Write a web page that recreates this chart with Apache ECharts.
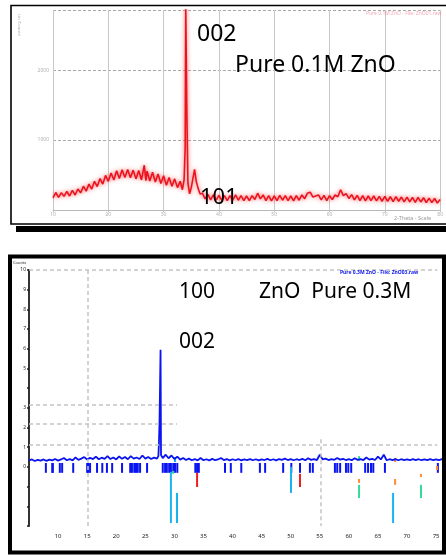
<!DOCTYPE html>
<html>
<head>
<meta charset="utf-8">
<script src="https://cdn.jsdelivr.net/npm/echarts@6/dist/echarts.min.js"></script>
<style>
  html, body { margin: 0; padding: 0; background: #fff; }
  #chart { width: 446px; height: 555px; }
</style>
</head>
<body>
<div id="chart"></div>
<script>
// ---- Upper scan: Pure 0.1M ZnO, [2-theta (deg), counts] ----
const scan01 = [
  [10.0,175],[10.5,250],[11.0,180],[11.5,245],[12.0,195],[12.5,265],[13.0,200],[13.5,280],[14.0,215],[14.5,300],
  [15.0,245],[15.5,340],[16.0,270],[16.5,370],[17.0,300],[17.5,410],[18.0,335],[18.5,450],[19.0,370],[19.5,495],
  [20.0,410],[20.5,530],[21.0,430],[21.5,560],[22.0,450],[22.5,575],[23.0,465],[23.5,580],[24.0,460],[24.5,570],
  [25.0,445],[25.5,565],[26.0,430],[26.5,640],[26.8,420],[27.0,555],[27.5,415],[28.0,540],[28.5,400],[29.0,515],
  [29.5,380],[30.0,490],[30.5,355],[31.0,465],[31.5,340],[32.0,445],[32.5,320],[33.0,410],[33.4,290],[33.7,430],
  [33.9,900],[34.0,2950],[34.2,1400],[34.4,380],[34.7,230],[35.0,320],[35.3,300],[35.6,580],[35.9,410],[36.2,320],
  [36.6,230],[37.0,240],[37.5,160],[38.0,225],[38.5,145],[39.0,215],[39.5,140],[40.0,210],[40.5,140],[41.0,205],
  [41.5,135],[42.0,205],[42.5,140],[43.0,215],[43.5,140],[44.0,205],[44.5,135],[45.0,200],[45.5,135],[46.0,205],
  [46.5,150],[47.0,240],[47.5,160],[48.0,215],[48.5,135],[49.0,205],[49.5,130],[50.0,200],[50.5,135],[51.0,210],
  [51.5,140],[52.0,205],[52.5,135],[53.0,200],[53.5,130],[54.0,205],[54.5,140],[55.0,215],[55.5,160],[56.0,240],
  [56.5,255],[57.0,185],[57.5,200],[58.0,215],[58.5,145],[59.0,210],[59.5,135],[60.0,205],[60.5,150],[61.0,215],
  [61.5,190],[62.0,290],[62.5,205],[63.0,235],[63.5,165],[64.0,220],[64.5,145],[65.0,210],[65.5,135],[66.0,205],
  [66.5,130],[67.0,200],[67.5,135],[68.0,200],[68.5,130],[69.0,195],[69.5,125],[70.0,195],[70.5,125],[71.0,190],
  [71.5,120],[72.0,190],[72.5,125],[73.0,185],[73.5,115],[74.0,185],[74.5,115],[75.0,180],[75.5,110],[76.0,180],
  [76.5,115],[77.0,175],[77.5,105],[78.0,170],[78.5,105],[79.0,165],[79.5,100],[80.0,150]
];
const scan01Ticks = [10, 20, 30, 40, 50, 60, 70, 80];

// ---- Lower scan: ZnO Pure 0.3M, [position, intensity] ----
const scan03 = [
  [5.0,.33],[5.5,.38],[6.0,.30],[6.5,.36],[7.0,.32],[7.5,.38],[8.0,.31],[8.5,.37],[9.0,.33],[9.5,.40],
  [10.0,.32],[10.5,.38],[11.0,.45],[11.5,.34],[12.0,.40],[12.5,.33],[13.0,.48],[13.5,.36],[14.0,.42],[14.5,.50],
  [15.0,.38],[15.5,.46],[16.0,.40],[16.5,.52],[17.0,.39],[17.5,.47],[18.0,.41],[18.5,.55],[19.0,.40],[19.5,.48],
  [20.0,.38],[20.5,.53],[21.0,.41],[21.5,.50],[22.0,.39],[22.5,.55],[23.0,.42],[23.5,.48],[24.0,.40],[24.5,.58],
  [25.0,.42],[25.5,.50],[26.0,.40],[26.5,.47],[27.0,.42],[27.25,.55],[27.35,1.25],[27.45,2.40],[27.55,2.50],[27.62,5.95],
  [27.7,.60],[28.0,.45],[28.5,.62],[29.0,.44],[29.5,.58],[30.0,.40],[30.5,.52],[31.0,.37],[31.5,.45],[32.0,.35],
  [32.5,.42],[33.0,.34],[33.5,.40],[34.0,.33],[34.5,.45],[35.0,.34],[35.5,.39],[36.0,.33],[36.5,.41],[37.0,.34],
  [37.5,.38],[38.0,.45],[38.5,.35],[39.0,.40],[39.5,.33],[40.0,.39],[40.5,.34],[41.0,.40],[41.5,.33],[42.0,.38],
  [42.5,.35],[43.0,.40],[43.5,.34],[44.0,.39],[44.5,.33],[45.0,.38],[45.5,.35],[46.0,.41],[46.5,.34],[47.0,.39],
  [47.5,.33],[48.0,.40],[48.5,.36],[49.0,.42],[49.5,.35],[50.0,.40],[50.5,.34],[51.0,.39],[51.5,.35],[52.0,.41],
  [52.5,.34],[53.0,.44],[53.5,.36],[54.0,.40],[54.5,.35],[55.0,.62],[55.5,.38],[56.0,.42],[56.5,.35],[57.0,.40],
  [57.5,.36],[58.0,.45],[58.5,.37],[59.0,.41],[59.5,.35],[60.0,.40],[60.5,.34],[61.0,.44],[61.5,.36],[62.0,.40],
  [62.5,.35],[63.0,.48],[63.5,.37],[64.0,.41],[64.5,.35],[65.0,.52],[65.5,.38],[66.0,.62],[66.5,.34],[67.0,.39],
  [67.5,.35],[68.0,.40],[68.5,.34],[69.0,.39],[69.5,.35],[70.0,.38],[70.5,.34],[71.0,.40],[71.5,.35],[72.0,.39],
  [72.5,.34],[73.0,.38],[73.5,.35],[74.0,.40],[74.5,.34],[75.0,.38],[75.5,.35],[76.0,.39],[76.5,.34]
];

// short counting ticks under the lower baseline (positions)
const countTicks = [
  7.9, 9.0, 9.1, 10.3, 10.7, 12.6, 15.0, 15.2, 15.5, 16.7, 17.6, 18.4, 19.3, 21.0,
  22.4, 22.7, 23.1, 23.4, 23.7, 24.1, 25.3, 28.0, 28.4, 28.7, 29.1, 29.4, 29.8, 30.1, 30.5,
  33.6, 33.9, 34.2, 38.7, 39.7, 41.5, 44.7, 45.6, 48.7, 50.1, 51.6, 53.3, 53.8,
  57.6, 58.0, 58.5, 59.5, 59.9, 60.4, 62.8, 63.3, 63.8, 64.2, 66.2, 75.3
];
const countTickTop = 0.2;
const countTickBottom = -0.3;

// reference stick patterns: [position, from, to]
const sticksCyan   = [[29.4,-0.25,-2.85],[30.45,-1.32,-2.85],[50.05,0.0,-1.32],[67.6,-1.32,-2.85],[30.1,0.5,0.25]];
const sticksRed    = [[33.9,-0.3,-1.02],[51.6,-0.35,-1.02]];
const sticksOrange = [[61.75,-0.61,-0.81],[67.95,-0.61,-0.91],[72.4,-0.36,-0.51],[75.15,0.05,-0.15],[67.95,0.45,0.25]];
const sticksGreen  = [[61.75,-0.91,-1.58],[72.4,-0.91,-1.58],[61.75,0.55,0.3],[29.8,-0.2,-0.35]];

// dashed guide lines of the lower panel: [[x1,y1],[x2,y2]]
const guides03 = [
  [[5, 10], [75.2, 10]],
  [[5, 3.15], [30.45, 3.15]],
  [[5, 2.2], [30.45, 2.2]],
  [[5, 1.15], [75.2, 1.15]],
  [[15.15, 10], [15.15, -3]],
  [[55.2, 1.4], [55.2, -3]]
];
const scan03Ticks = [10, 15, 20, 25, 30, 35, 40, 45, 50, 55, 60, 65, 70, 75];

const chart = echarts.init(document.getElementById('chart'), null, { renderer: 'canvas', devicePixelRatio: 1 });

function stickRenderer(color, width) {
  return function (params, api) {
    const a = api.coord([api.value(0), api.value(1)]);
    const b = api.coord([api.value(0), api.value(2)]);
    return {
      type: 'line',
      shape: { x1: a[0], y1: a[1], x2: b[0], y2: b[1] },
      style: { stroke: color, lineWidth: width }
    };
  };
}
function stickSeries(data, color, width) {
  return {
    type: 'custom', xAxisIndex: 1, yAxisIndex: 1, silent: true,
    renderItem: stickRenderer(color, width),
    encode: { x: 0, y: [1, 2] },
    data: data, z: 3
  };
}

const FONT = '"Noto Sans", "Open Sans", sans-serif';
function label(text, x, y, size, color, extra) {
  return Object.assign({
    type: 'text', x: x, y: y, z: 100,
    style: {
      text: text, fill: color, font: size + 'px ' + FONT,
      align: 'left', verticalAlign: 'middle', textAlign: 'left', textVerticalAlign: 'middle'
    }
  }, extra || {});
}

const option = {
  animation: false,
  backgroundColor: '#fff',
  grid: [
    { left: 53, top: 10, width: 393, height: 200 },
    { left: 29, top: 270, width: 417, height: 256 }
  ],
  xAxis: [
    {
      type: 'value', gridIndex: 0, min: 10, max: 80, interval: 10,
      axisLine: { show: true, lineStyle: { color: '#b8b8b8', width: 1 } },
      axisTick: { show: true, length: 2, lineStyle: { color: '#c0c0c0' } },
      axisLabel: {
        fontSize: 5, color: '#b0b0b0', margin: 2, fontFamily: FONT,
        formatter: v => scan01Ticks.includes(v) ? String(v) : ''
      },
      splitLine: { show: true, lineStyle: { color: '#c8c8c8', width: 1 } }
    },
    {
      type: 'value', gridIndex: 1, min: 5, max: 76.7, interval: 5,
      axisLine: { show: false }, axisTick: { show: false },
      axisLabel: {
        fontSize: 6, color: '#222', margin: 7, fontFamily: FONT,
        showMinLabel: false, showMaxLabel: false,
        formatter: v => scan03Ticks.includes(v) ? String(v) : ''
      },
      splitLine: { show: false }
    }
  ],
  yAxis: [
    {
      type: 'value', gridIndex: 0, min: 0, max: 2860, interval: 1000,
      axisLine: { show: false }, axisTick: { show: false },
      axisLabel: {
        fontSize: 5, color: '#b0b0b0', margin: 4, fontFamily: FONT,
        formatter: v => (v > 0 && v % 1000 === 0) ? String(v) : ''
      },
      splitLine: { show: true, lineStyle: { color: '#a8a8a8', width: 1, type: [3, 2] } }
    },
    {
      type: 'value', gridIndex: 1, min: -3, max: 10, interval: 1,
      axisLine: { show: true, lineStyle: { color: '#333', width: 2 } },
      axisTick: { show: true, length: 2, lineStyle: { color: '#222', width: 1.5 } },
      axisLabel: {
        fontSize: 5, color: '#222', margin: 3, fontFamily: FONT,
        formatter: v => (v >= 0 && v !== 4) ? String(v) : ''
      },
      splitLine: { show: false }
    }
  ],
  series: [
    {
      name: 'Pure 0.1M ZnO', type: 'line', xAxisIndex: 0, yAxisIndex: 0,
      data: scan01, showSymbol: false, clip: true, z: 3,
      lineStyle: { color: '#ea1420', width: 1.6, shadowBlur: 4, shadowColor: 'rgba(255,60,60,0.85)' }
    },
    {
      name: 'guides', type: 'line', xAxisIndex: 1, yAxisIndex: 1, data: [], z: 1,
      markLine: {
        silent: true, symbol: 'none', label: { show: false },
        lineStyle: { color: '#c4c4c4', width: 1.5, type: [4, 3] },
        data: guides03.map(g => [{ coord: g[0] }, { coord: g[1] }])
      }
    },
    {
      name: 'ZnO Pure 0.3M', type: 'line', xAxisIndex: 1, yAxisIndex: 1,
      data: scan03, showSymbol: false, clip: true, z: 4,
      lineStyle: { color: '#0a14f0', width: 1.8 }
    },
    stickSeries(countTicks.map(p => [p, countTickTop, countTickBottom]), '#0a14f0', 2),
    stickSeries(sticksCyan, '#19b4f0', 2),
    stickSeries(sticksRed, '#f01e1e', 2),
    stickSeries(sticksOrange, '#ff8a3c', 2),
    stickSeries(sticksGreen, '#33dc96', 2)
  ],
  graphic: [
    // panel frames
    { type: 'rect', z: 90, shape: { x: 11, y: 5.5, width: 440, height: 218.5 },
      style: { fill: 'none', stroke: '#000', lineWidth: 1.6 } },
    { type: 'rect', z: 90, shape: { x: 16, y: 226, width: 440, height: 6 }, style: { fill: '#000' } },
    { type: 'rect', z: 90, shape: { x: 10, y: 256.5, width: 434, height: 296 },
      style: { fill: 'none', stroke: '#000', lineWidth: 4 } },
    // annotations, upper panel
    label('002', 197, 34, 23, '#000'),
    label('Pure 0.1M ZnO', 235, 65, 23, '#000'),
    label('101', 200, 198, 22, '#000'),
    label('Pure 0.1M ZnO - File: ZnO01.raw', 366, 14, 5, 'rgba(235,90,120,0.55)'),
    label('2-Theta - Scale', 394, 218, 5.5, '#9a9a9a'),
    label('Lin (Counts)', 19, 14, 4, '#b0b0b0', { rotation: -Math.PI / 2 }),
    // annotations, lower panel
    label('100', 179, 292, 21, '#000'),
    label('ZnO  Pure 0.3M', 259, 292, 21, '#000'),
    label('002', 179, 342, 21, '#000'),
    label('Counts', 13, 263, 4, '#222'),
    label('Pure 0.3M ZnO - File: ZnO03.raw', 340, 273, 5, '#0a14f0', {
      style: { text: 'Pure 0.3M ZnO - File: ZnO03.raw', fill: '#0a14f0', font: 'bold 5px ' + FONT,
        align: 'left', verticalAlign: 'middle', textAlign: 'left', textVerticalAlign: 'middle' }
    })
  ]
};

chart.setOption(option);
</script>
</body>
</html>
